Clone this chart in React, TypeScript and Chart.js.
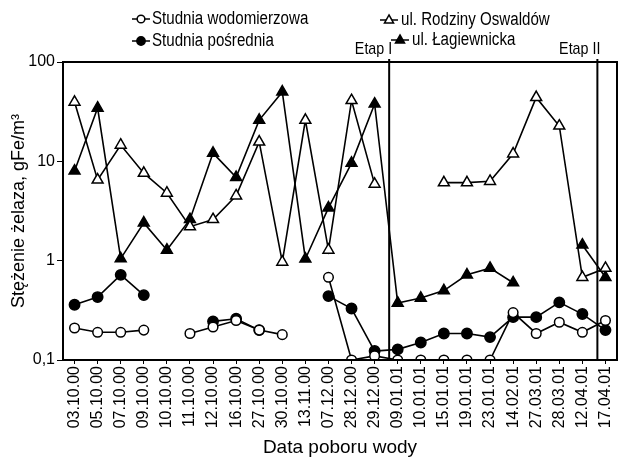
import { useEffect, useRef } from "react";
import { Chart, registerables } from "chart.js";

Chart.register(...registerables);

const FONT = "'Liberation Sans', Arial, sans-serif";

const categories = [
  "03.10.00", "05.10.00", "07.10.00", "09.10.00", "10.10.00", "11.10.00",
  "12.10.00", "16.10.00", "27.10.00", "30.10.00", "13.11.00", "07.12.00",
  "28.12.00", "29.12.00", "09.01.01", "10.01.01", "15.01.01", "19.01.01",
  "23.01.01", "14.02.01", "27.03.01", "28.03.01", "12.04.01", "17.04.01",
];

const wodomierzowa = [
  0.21, 0.19, 0.19, 0.2, null, 0.185, 0.215, 0.25, 0.2, 0.18, null, 0.68,
  0.1, 0.11, 0.1, 0.1, 0.1, 0.1, 0.1, 0.3, 0.185, 0.24, 0.19, 0.25,
];

const posrednia = [
  0.36, 0.43, 0.72, 0.45, null, null, 0.245, 0.26, 0.2, null, null, 0.44,
  0.33, 0.123, 0.128, 0.15, 0.185, 0.185, 0.17, 0.27, 0.27, 0.38, 0.29, 0.2,
];

const rodziny = [
  39.5, 6.5, 14.6, 7.6, 4.8, 2.2, 2.6, 4.5, 15.7, 0.97, 26, 1.28,
  41, 5.9, null, null, 6.1, 6.1, 6.3, 11.9, 44, 22.7, 0.68, 0.84,
];

const lagiewnicka = [
  8.0, 34.4, 1.05, 2.4, 1.28, 2.6, 12.1, 6.9, 26, 50, 1.04, 3.4,
  9.6, 37.8, 0.375, 0.42, 0.5, 0.72, 0.84, 0.6, null, null, 1.44, 0.68,
];

const yTicks = [0.1, 1, 10, 100];
const yTickLabels = ["0,1", "1", "10", "100"];

const seriesNames = [
  "Studnia wodomierzowa",
  "Studnia pośrednia",
  "ul. Rodziny Oswaldów",
  "ul. Łagiewnicka",
];

const etapLabels = ["Etap I", "Etap II"];
const etapAt = [13.63, 22.65];

type Style = { pointStyle: string; fill: string; radius: number };
const styles: Style[] = [
  { pointStyle: "circle", fill: "#fff", radius: 4.8 },
  { pointStyle: "circle", fill: "#000", radius: 5.2 },
  { pointStyle: "triangle", fill: "#fff", radius: 6.3 },
  { pointStyle: "triangle", fill: "#000", radius: 6.3 },
];

const legendPos = [
  { sx: 141, y: 19, tx: 152 },
  { sx: 141, y: 41, tx: 152 },
  { sx: 389, y: 20, tx: 401 },
  { sx: 400, y: 40, tx: 412 },
];

const NARROW_SCALE = 0.84;

function narrowText(ctx: any, text: string, x: number, y: number, size: number, align: "left" | "right") {
  ctx.save();
  ctx.font = `${size}px ${FONT}`;
  ctx.textBaseline = "middle";
  ctx.textAlign = align;
  ctx.translate(x, y);
  ctx.scale(NARROW_SCALE, 1);
  ctx.fillStyle = "#000";
  ctx.fillText(text, 0, 0);
  ctx.restore();
}

const overlay = {
  id: "overlay",
  afterDatasetsDraw(chart: any) {
    const { ctx, chartArea } = chart;
    const xs = chart.scales.x;
    ctx.save();
    ctx.strokeStyle = "#000";
    ctx.lineWidth = 2;
    ctx.strokeRect(chartArea.left, chartArea.top, chartArea.right - chartArea.left, chartArea.bottom - chartArea.top);
    etapAt.forEach((at, i) => {
      const f = Math.floor(at);
      const p0 = xs.getPixelForValue(f);
      const p1 = xs.getPixelForValue(f + 1);
      const x = p0 + (at - f) * (p1 - p0);
      ctx.lineWidth = 2;
      ctx.beginPath();
      ctx.moveTo(x, chartArea.top - 3);
      ctx.lineTo(x, chartArea.bottom);
      ctx.stroke();
      narrowText(ctx, etapLabels[i], x + 3, 49, 17, "right");
    });
    seriesNames.forEach((name, i) => {
      const p = legendPos[i];
      const st = styles[i];
      ctx.lineWidth = 1.5;
      ctx.beginPath();
      ctx.moveTo(p.sx - 9, p.y);
      ctx.lineTo(p.sx + 9, p.y);
      ctx.stroke();
      ctx.fillStyle = st.fill;
      ctx.beginPath();
      const r = st.radius * 0.8;
      if (st.pointStyle === "circle") {
        ctx.arc(p.sx, p.y, r, 0, Math.PI * 2);
      } else {
        ctx.moveTo(p.sx, p.y - r);
        ctx.lineTo(p.sx + r * 0.9, p.y + r * 0.6);
        ctx.lineTo(p.sx - r * 0.9, p.y + r * 0.6);
        ctx.closePath();
      }
      ctx.fill();
      ctx.stroke();
      narrowText(ctx, name, p.tx, p.y, 18, "left");
    });
    ctx.restore();
  },
};

export default function App() {
  const ref = useRef<HTMLCanvasElement>(null);
  useEffect(() => {
    document.body.style.margin = "0";
    const series = [wodomierzowa, posrednia, rodziny, lagiewnicka];
    const chart = new Chart(ref.current!, {
      type: "line",
      data: {
        labels: categories,
        datasets: series.map((d, i) => ({
          label: seriesNames[i],
          data: d,
          borderColor: "#000",
          borderWidth: 1.6,
          pointStyle: styles[i].pointStyle as any,
          pointRadius: styles[i].radius,
          pointBackgroundColor: styles[i].fill,
          pointBorderColor: "#000",
          pointBorderWidth: 1.5,
          spanGaps: false,
          tension: 0,
          fill: false,
        })),
      },
      options: {
        responsive: false,
        animation: false,
        layout: { padding: { top: 62, right: 12, left: 0, bottom: 0 } },
        plugins: { legend: { display: false }, tooltip: { enabled: false } },
        scales: {
          x: {
            offset: true,
            grid: { drawOnChartArea: false, tickLength: 4, color: "#000", lineWidth: 1 },
            border: { color: "#000", width: 2 },
            ticks: {
              minRotation: 90,
              maxRotation: 90,
              autoSkip: false,
              color: "#000",
              font: { family: FONT, size: 16 },
              padding: 2,
            },
            title: {
              display: true,
              text: "Data poboru wody",
              color: "#000",
              font: { family: FONT, size: 19 },
              padding: { top: 0, bottom: 3 },
            },
            afterFit: (s: any) => {
              s.height = 102;
            },
          },
          y: {
            type: "logarithmic",
            min: 0.1,
            max: 100,
            afterBuildTicks: (s: any) => {
              s.ticks = yTicks.map((v) => ({ value: v }));
            },
            grid: { drawOnChartArea: false, tickLength: 6, color: "#000", lineWidth: 1 },
            border: { color: "#000", width: 2 },
            ticks: {
              color: "#000",
              font: { family: FONT, size: 16 },
              padding: 2,
              callback: (v: any) => {
                const i = yTicks.indexOf(Number(v));
                return i >= 0 ? yTickLabels[i] : "";
              },
            },
            title: {
              display: true,
              text: "Stężenie żelaza, gFe/m³",
              color: "#000",
              font: { family: FONT, size: 18 },
              padding: { top: 8, bottom: 0 },
            },
            afterFit: (s: any) => {
              s.width = 63;
            },
          },
        },
      },
      plugins: [overlay],
    });
    return () => chart.destroy();
  }, []);
  return <canvas ref={ref} width={629} height={462} style={{ display: "block" }} />;
}
